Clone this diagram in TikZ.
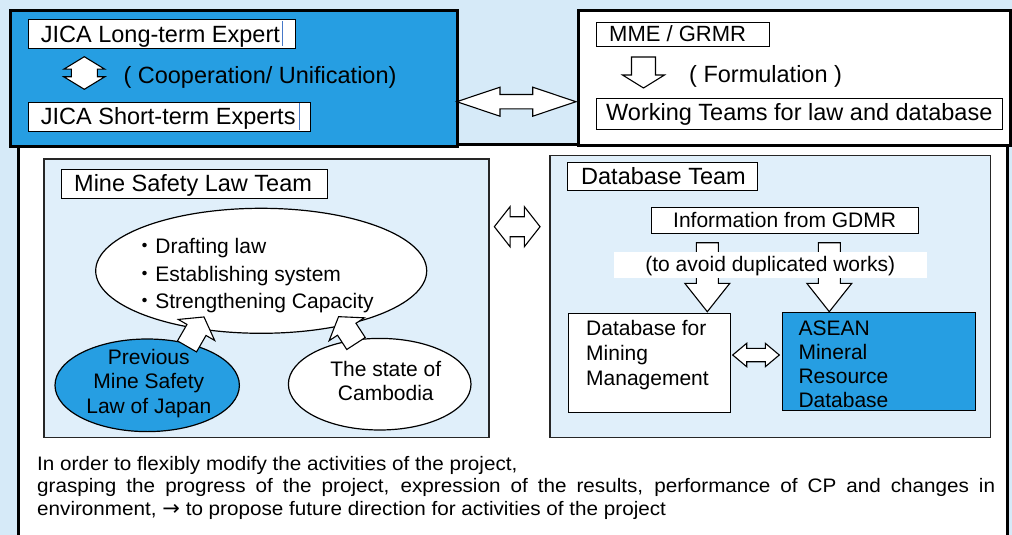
\documentclass[tikz,border=0pt]{standalone}
\usepackage{fontspec}
\setmainfont{Liberation Sans}
\newfontfamily\cjkfont{Noto Sans CJK JP}
\newfontfamily\widefont[FakeStretch=1.06]{Liberation Sans}
\newfontfamily\arrowfont{DejaVu Sans}
\usetikzlibrary{shapes.geometric}
\definecolor{bgblue}{RGB}{214,234,248}
\definecolor{teamfill}{RGB}{224,239,250}
\definecolor{jblue}{RGB}{38,158,226}
\definecolor{cursorblue}{RGB}{70,120,200}
\newcommand{\FL}{\rule{0pt}{16pt}}
\newcommand{\DblArrow}[7]{\draw[blockarrow,shift={(#1,#2)},rotate=#3] (-#4,0) -- ({-#4+#5},#6) -- ({-#4+#5},#7) -- ({#4-#5},#7) -- ({#4-#5},#6) -- (#4,0) -- ({#4-#5},-#6) -- ({#4-#5},-#7) -- ({-#4+#5},-#7) -- ({-#4+#5},-#6) -- cycle;}
\newcommand{\SglArrow}[7]{\draw[blockarrow,shift={(#1,#2)},rotate=#3] (0,-#7) -- ({#4-#5},-#7) -- ({#4-#5},-#6) -- (#4,0) -- ({#4-#5},#6) -- ({#4-#5},#7) -- (0,#7) -- cycle;}
\tikzset{
  blockarrow/.style={draw=black, fill=white, line width=1.1pt, line join=miter},
  bigbox/.style={draw=black, line width=3pt, inner sep=0pt, anchor=north west},
  teambox/.style={draw=black!85, fill=teamfill, line width=1.3pt, inner sep=0pt, anchor=north west},
  tbox/.style={draw=black, fill=white, line width=0.9pt, inner sep=0pt, anchor=north west},
  lbl/.style={font=\fontsize{23.5}{28}\selectfont, inner sep=0pt, anchor=base west},
  sm/.style={font=\fontsize{21}{25}\selectfont, inner sep=0pt},
  ell/.style={ellipse, draw=black, line width=1.2pt, inner sep=0pt},
}
\begin{document}
\begin{tikzpicture}[x=1pt,y=-1pt]
\useasboundingbox (0,0) rectangle (1012,535);
\fill[bgblue] (0,0) rectangle (1012,535);
% big frame
\draw[line width=3pt, fill=white] (18.5,144) rectangle (1007.5,560);

% JICA box
\node[bigbox, fill=jblue, minimum width=447pt, minimum height=136pt] (jica) at (8.5,9) {};
\node[tbox, minimum width=266.7pt, minimum height=28.7pt] (ltbox) at (28.3,19) {};
\node[lbl] (lt) at (40.7,42.7) {JICA Long-term Expert};
\draw[cursorblue, line width=1pt] (282.7,21) -- (282.7,46.5);
\node[tbox, minimum width=281.7pt, minimum height=29pt] (stbox) at (28.3,101.7) {};
\node[lbl] (st) at (40.7,124) {JICA Short-term Experts};
\draw[cursorblue, line width=1pt] (299.3,103) -- (299.3,129.5);
\DblArrow{84.3}{73}{90}{16.3}{12.5}{20.5}{13}
\node[lbl] (coop) at (123.3,83.3) {( Cooperation/ Unification)};

% MME box
\node[bigbox, fill=white, minimum width=431.5pt, minimum height=134.5pt] (mme) at (577,9) {};
\node[tbox, minimum width=172.5pt, minimum height=24pt] (mmebox) at (596,21.7) {};
\node[lbl, font=\fontsize{22}{26}\selectfont] (mmet) at (609,41.5) {MME / GRMR};
\SglArrow{643.5}{57}{-90}{31}{13}{21}{12}
\node[lbl] (form) at (689,82.5) {( Formulation )};
\node[tbox, minimum width=406pt, minimum height=31pt] (wtbox) at (596,98) {};
\node[lbl] (wt) at (606,121) {Working Teams for law and database};

% arrow between top boxes
\DblArrow{516.35}{101.7}{0}{59.65}{43.3}{14.5}{7.2}

% Mine Safety Law Team
\node[teambox, minimum width=445pt, minimum height=278.4pt] (law) at (43.3,158.3) {};
\node[tbox, minimum width=266.6pt, minimum height=28.7pt] (lawtbox) at (60.7,169) {};
\node[lbl] (lawt) at (74,191.7) {Mine Safety Law Team};
\node[ell, fill=white, minimum width=331pt, minimum height=125pt] (goals) at (261.2,270.8) {};
\node[sm, font=\fontsize{21}{27.5}\selectfont, align=left, anchor=north west] (goalst) at (134.2,237.3)
  {\FL{\cjkfont ・}Drafting law\\{\cjkfont ・}Establishing system\\{\cjkfont ・}Strengthening Capacity};
\node[ell, fill=jblue, minimum width=184.4pt, minimum height=92.6pt] (prev) at (147.2,385.3) {};
\node[sm, font=\fontsize{21}{24.7}\selectfont, align=center, anchor=north] (prevt) at (148.8,348)
  {\FL Previous\\Mine Safety\\Law of Japan};
\node[ell, fill=white, minimum width=182.6pt, minimum height=91.6pt] (camb) at (379.7,384.2) {};
\node[sm, font=\fontsize{21}{24}\selectfont, align=center, anchor=north] (cambt) at (385.8,360.7)
  {\FL The state of\\Cambodia};
\SglArrow{187}{346.4}{60}{34}{15}{21}{11}
\SglArrow{356}{343.5}{123}{32}{15}{21}{11}

% arrow between teams
\DblArrow{517.2}{226.7}{0}{22.85}{15.7}{20}{10}

% Database Team
\node[teambox, minimum width=440.7pt, minimum height=281.7pt] (db) at (549.3,155) {};
\node[tbox, minimum width=190pt, minimum height=28.3pt] (dbtbox) at (566.7,161.7) {};
\node[lbl] (dbt) at (581,184) {Database Team};
\node[tbox, minimum width=267pt, minimum height=26pt] (infobox) at (650.7,206.7) {};
\node[sm, anchor=base west] (info) at (673,227.3) {Information from GDMR};
\SglArrow{707.3}{242.7}{-90}{69}{28.4}{22.5}{11}
\SglArrow{829.3}{242.7}{-90}{69}{28.4}{22.5}{11}
\node[fill=white, inner sep=0pt, anchor=north west, minimum width=313.4pt, minimum height=25.6pt] (band) at (613.3,251.7) {};
\node[sm, anchor=base] (avoid) at (770.3,271.7) {(to avoid duplicated works)};
\node[tbox, minimum width=161.7pt, minimum height=98.4pt] (dbmm) at (568.3,313.3) {};
\node[sm, align=left, anchor=north west] (dbmmt) at (586,319) {\FL Database for\\Mining\\Management};
\node[tbox, fill=jblue, minimum width=193.3pt, minimum height=98.3pt] (asean) at (781.7,311.7) {};
\node[sm, font=\fontsize{21}{24}\selectfont, align=left, anchor=north west] (aseant) at (798.3,319) {\FL ASEAN\\Mineral\\Resource\\Database};
\DblArrow{756}{355}{0}{23.3}{14}{11.7}{6.7}

% bottom text
\node[inner sep=0pt, anchor=north west] (note) at (37,455) {\parbox[t]{958pt}{\widefont\fontsize{19.5}{22.5}\selectfont\rule{0pt}{15pt}In order to flexibly modify the activities of the project,\\
grasping the progress of the project, expression of the results, performance of CP and changes in\linebreak
environment, {\arrowfont\fontsize{21}{22}\selectfont →} to propose future direction for activities of the project}};
\end{tikzpicture}
\end{document}
